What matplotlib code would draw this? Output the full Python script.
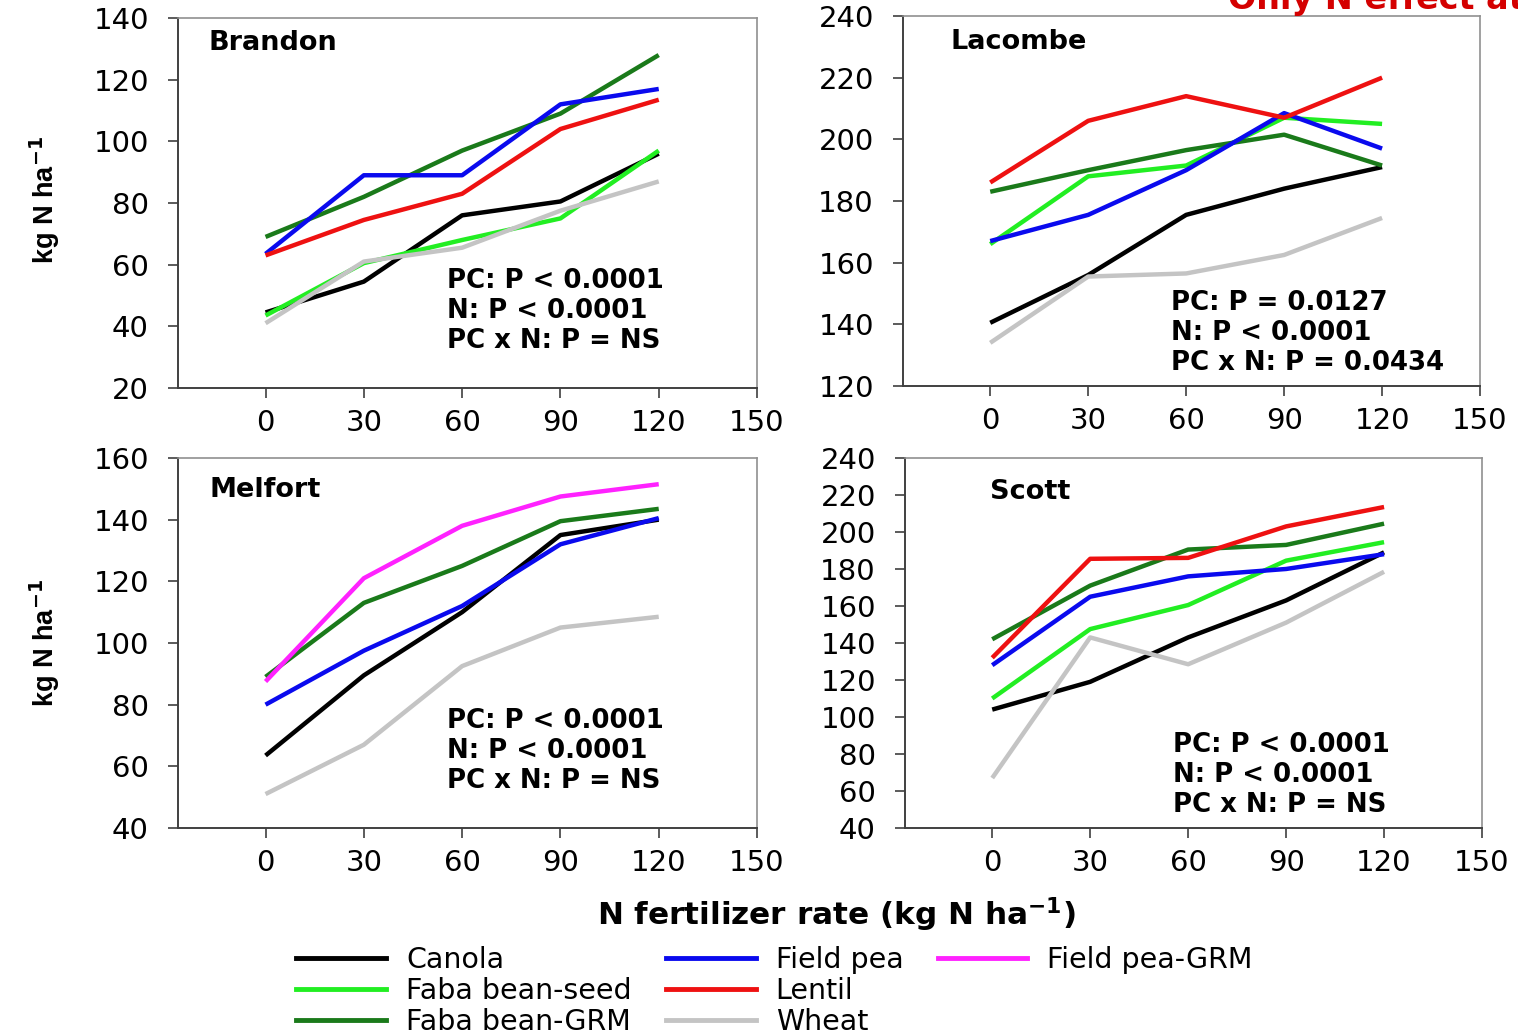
import numpy as np
import matplotlib
matplotlib.use("Agg")
import matplotlib.pyplot as plt
from matplotlib.lines import Line2D

plt.rcParams['font.family'] = ['DejaVu Sans']

# N fertilizer rates
n_rate = [0, 30, 60, 90, 120]

crops = ["Canola", "Faba bean-seed", "Faba bean-GRM", "Field pea", "Lentil", "Wheat", "Field pea-GRM"]
crop_colors = {
    "Canola": "#000000",
    "Faba bean-seed": "#22ee22",
    "Faba bean-GRM": "#1a7a1a",
    "Field pea": "#0a0aee",
    "Lentil": "#ee1111",
    "Wheat": "#c4c4c4",
    "Field pea-GRM": "#ff22ff",
}

# values (kg N/ha)
brandon = {
    "Canola": [44.5, 54.5, 76, 80.5, 96],
    "Faba bean-seed": [43.5, 60.5, 68, 75, 97],
    "Faba bean-GRM": [69, 82, 97, 109, 128],
    "Field pea": [63.5, 89, 89, 112, 117],
    "Lentil": [63, 74.5, 83, 104, 113.5],
    "Wheat": [41, 61, 65.5, 77.5, 87],
}
lacombe = {
    "Canola": [140.5, 156, 175.5, 184, 191],
    "Faba bean-seed": [166, 188, 191.5, 207, 205],
    "Faba bean-GRM": [183, 190, 196.5, 201.5, 191.5],
    "Field pea": [167, 175.5, 190, 208.5, 197],
    "Lentil": [186, 206, 214, 207, 220],
    "Wheat": [134, 155.5, 156.5, 162.5, 174.5],
}
melfort = {
    "Canola": [63.5, 89.5, 110, 135, 140],
    "Faba bean-GRM": [89, 113, 125, 139.5, 143.5],
    "Field pea": [80, 97.5, 112, 132, 140.5],
    "Field pea-GRM": [87.5, 121, 138, 147.5, 151.5],
    "Wheat": [51, 67, 92.5, 105, 108.5],
}
scott = {
    "Canola": [104, 119, 143, 163, 189],
    "Faba bean-seed": [110, 147.5, 160.5, 184.5, 194.5],
    "Faba bean-GRM": [142, 171, 190.5, 193, 204.5],
    "Field pea": [128, 165, 176, 180, 188],
    "Lentil": [132, 185.5, 186, 203, 213.5],
    "Wheat": [67, 143, 128.5, 151, 178.5],
}

sites = ["Brandon", "Lacombe", "Melfort", "Scott"]
site_data = [brandon, lacombe, melfort, scott]
y_ranges = [(20, 140, 20), (120, 240, 20), (40, 160, 20), (40, 240, 20)]
stats = [
    ["PC: P < 0.0001", "N: P < 0.0001", "PC x N: P = NS"],
    ["PC: P = 0.0127", "N: P < 0.0001", "PC x N: P = 0.0434"],
    ["PC: P < 0.0001", "N: P < 0.0001", "PC x N: P = NS"],
    ["PC: P < 0.0001", "N: P < 0.0001", "PC x N: P = NS"],
]
stat_ypos = [0.29, 0.225, 0.29, 0.225]
title_pos = [(0.052, 0.932), (0.083, 0.93), (0.054, 0.914), (0.147, 0.908)]

fig = plt.figure(figsize=(15.18, 10.31), dpi=100)
positions = [
    [0.1173, 0.6237, 0.3814, 0.3588],
    [0.5949, 0.6256, 0.3801, 0.3589],
    [0.1173, 0.1969, 0.3814, 0.3589],
    [0.5962, 0.1969, 0.3801, 0.3589],
]

for i, site in enumerate(sites):
    ax = fig.add_axes(positions[i])
    data = site_data[i]
    for crop in crops:
        if crop in data:
            ax.plot(n_rate, data[crop], color=crop_colors[crop], lw=3.2, solid_capstyle='butt')
    lo, hi, step = y_ranges[i]
    ax.set_ylim(lo, hi)
    ax.set_yticks(np.arange(lo, hi + 1, step))
    ax.set_xlim(-26.7, 150)
    ax.set_xticks([0, 30, 60, 90, 120, 150])
    for s in ["left", "bottom"]:
        ax.spines[s].set_color("#404040")
        ax.spines[s].set_linewidth(1.4)
    for s in ["top", "right"]:
        ax.spines[s].set_color("#909090")
        ax.spines[s].set_linewidth(1.2)
    ax.tick_params(axis='y', direction='out', length=7, width=1.2, color="#404040",
                   labelsize=21, pad=14)
    ax.tick_params(axis='x', direction='out', length=7, width=1.2, color="#404040",
                   labelsize=21, pad=8)
    tx, ty = title_pos[i]
    ax.text(tx, ty, site, transform=ax.transAxes, fontsize=19.5, fontweight='bold',
            va='center', ha='left')
    for j, line in enumerate(stats[i]):
        ax.text(0.465, stat_ypos[i] - j * 0.081, line, transform=ax.transAxes,
                fontsize=18.7, fontweight='bold', va='center', ha='left')

# y labels
for yc in [1 - 200 / 1031, 1 - 643 / 1031]:
    fig.text(45 / 1518, yc, r"kg N ha$^{\mathbf{-1}}$", rotation=90, fontsize=19.5,
             fontweight='bold', ha='center', va='center',
             family=['Liberation Sans Narrow', 'Liberation Sans'])

fig.text(836 / 1518, 1 - 915 / 1031, r"N fertilizer rate (kg N ha$^{\mathbf{-1}}$)",
         fontsize=22.4, fontweight='bold', ha='center', va='center')

# red note cut off at the top edge
fig.text(1228 / 1518, 1 - 9 / 1031, "Only N effect at all sites", color="#d40000",
         fontsize=24, fontweight='bold', ha='left', va='baseline')

# legend, filled column by column with two empty slots at the end
blank = Line2D([], [], color='none')
handles = [Line2D([], [], color=crop_colors[c], lw=3.5) for c in crops] + [blank, blank]
labels = crops + ["", ""]
fig.legend(handles, labels, ncol=3, loc='upper left', bbox_to_anchor=(296 / 1518, 1 - 946 / 1031),
           frameon=False, fontsize=20.5, handlelength=3.16, handletextpad=0.7,
           columnspacing=1.2, labelspacing=0.1, borderpad=0, borderaxespad=0)

fig.savefig("out.png", dpi=100)
